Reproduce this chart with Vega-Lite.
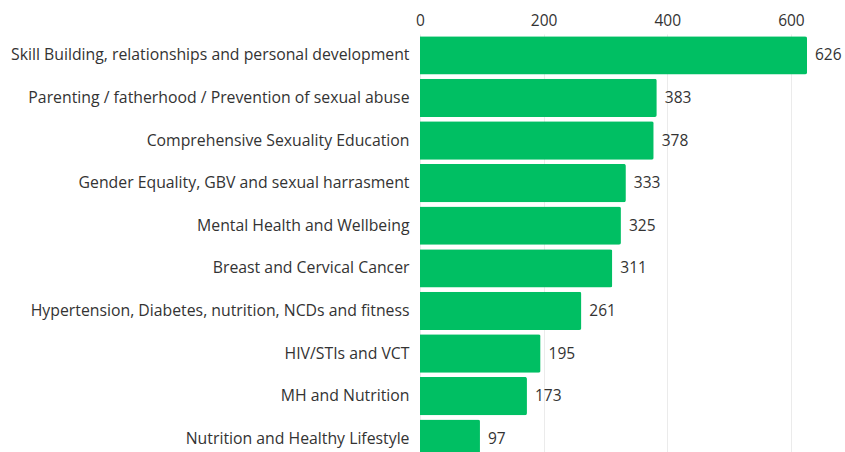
{
  "$schema": "https://vega.github.io/schema/vega-lite/v6.json",
  "width": 387,
  "height": 426,
  "autosize": {"type": "none"},
  "padding": {"left": 420, "top": 34, "right": 38, "bottom": 0},
  "background": "white",
  "config": {"view": {"stroke": null}, "font": "Open Sans"},
  "data": {"values": [
    {"topic": "Skill Building, relationships and personal development", "value": 626},
    {"topic": "Parenting / fatherhood / Prevention of sexual abuse", "value": 383},
    {"topic": "Comprehensive Sexuality Education", "value": 378},
    {"topic": "Gender Equality, GBV and sexual harrasment", "value": 333},
    {"topic": "Mental Health and Wellbeing", "value": 325},
    {"topic": "Breast and Cervical Cancer", "value": 311},
    {"topic": "Hypertension, Diabetes, nutrition, NCDs and fitness", "value": 261},
    {"topic": "HIV/STIs and VCT", "value": 195},
    {"topic": "MH and Nutrition", "value": 173},
    {"topic": "Nutrition and Healthy Lifestyle", "value": 97}
  ]},
  "encoding": {
    "y": {"field": "topic", "type": "nominal", "sort": null,
      "scale": {"paddingInner": 0.1, "paddingOuter": 0.05},
      "axis": {"title": null, "ticks": false, "domain": false, "labelFontSize": 15.8, "labelColor": "#333333", "labelPadding": 11, "labelLimit": 420}},
    "x": {"field": "value", "type": "quantitative",
      "scale": {"domain": [0, 626], "nice": false},
      "axis": {"orient": "top", "title": null, "values": [0, 200, 400, 600], "ticks": false, "domain": false, "labelFontSize": 15.5, "labelColor": "#333333", "labelPadding": 6, "gridColor": "#ebebeb", "labelFlush": false}}
  },
  "layer": [
    {"mark": {"type": "bar", "color": "#00BF63", "cornerRadiusEnd": 2}},
    {"mark": {"type": "text", "align": "left", "dx": 8, "fontSize": 15.5, "color": "#333333"},
     "encoding": {"text": {"field": "value", "type": "quantitative"}}}
  ]
}
